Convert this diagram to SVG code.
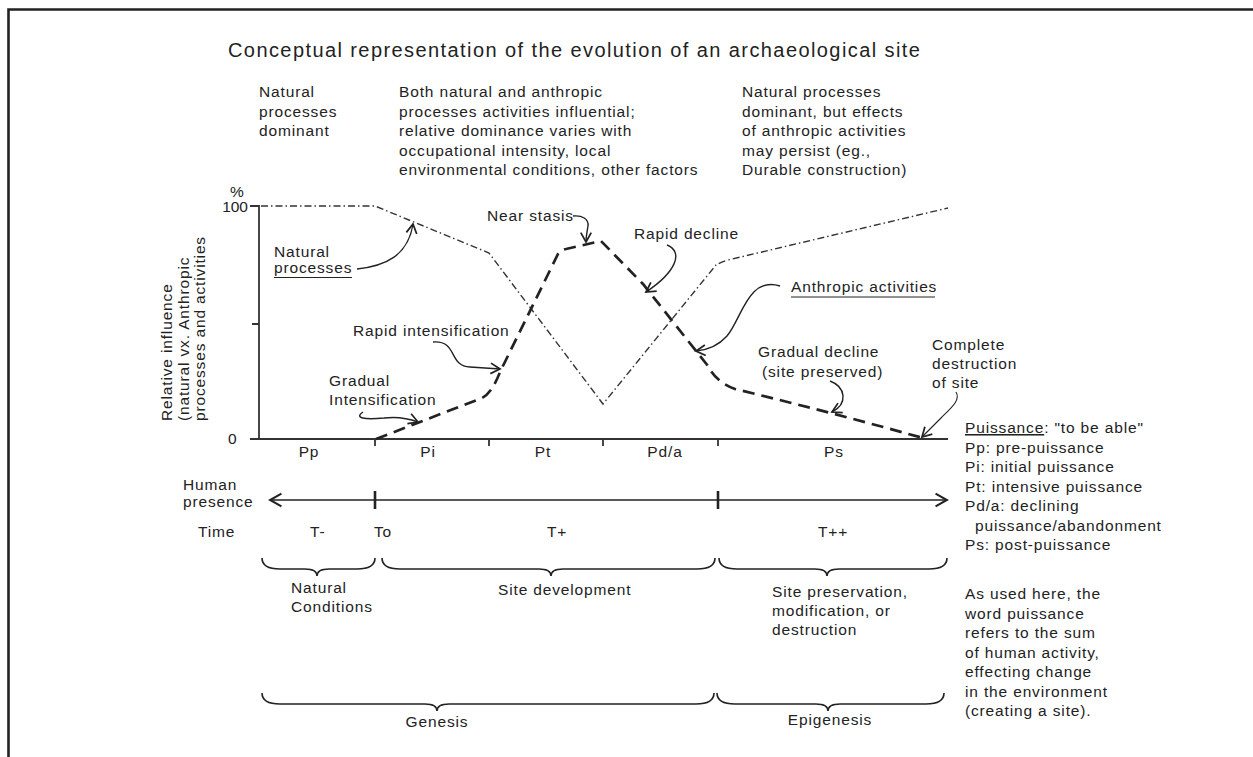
<svg xmlns="http://www.w3.org/2000/svg" width="1253" height="757" viewBox="0 0 1253 757">
<defs>
<style>
.t{font-family:"Liberation Sans",Arial,sans-serif;font-size:15.5px;fill:#222;letter-spacing:0.85px}
.title{font-size:20px;letter-spacing:0.1px}
.mid{text-anchor:middle}
.end{text-anchor:end}
.ln{fill:none;stroke:#222;stroke-width:1.6}
.ax{fill:none;stroke:#333;stroke-width:1.8}
.nat{fill:none;stroke:#333;stroke-width:1.4;stroke-dasharray:7 3 1.5 3}
.ant{fill:none;stroke:#222;stroke-width:2.7;stroke-dasharray:12 7}
.ann{fill:none;stroke:#222;stroke-width:1.4}
.br{fill:none;stroke:#222;stroke-width:1.6}
</style>
<marker id="ah" markerUnits="userSpaceOnUse" markerWidth="14" markerHeight="14" viewBox="-10 -6 12 12" refX="0" refY="0" orient="auto">
<path d="M-8,-4.5 L0,0 L-8,4.5" fill="none" stroke="#222" stroke-width="1.5"/>
</marker>
<marker id="big" markerUnits="userSpaceOnUse" markerWidth="16" markerHeight="16" viewBox="-12 -7 14 14" refX="0" refY="0" orient="auto-start-reverse">
<path d="M-10,-5.5 L0,0 L-10,5.5" fill="none" stroke="#222" stroke-width="1.8"/>
</marker>
</defs>
<rect x="0" y="0" width="1253" height="757" fill="#fff"/>
<g id="frame">
<path d="M8.5,757 L8.5,9.5 L1253,9.5" fill="none" stroke="#222" stroke-width="2.6"/>
</g>

<g id="title"><text class="t title" x="228" y="57" textLength="692" lengthAdjust="spacing">Conceptual representation of the evolution of an archaeological site</text></g>

<g id="phase-natural"><text class="t" x="259" y="97">Natural</text><text class="t" x="259" y="116.5">processes</text><text class="t" x="259" y="136">dominant</text></g>
<g id="phase-both"><text class="t" x="399" y="97">Both natural and anthropic</text><text class="t" x="399" y="116.5">processes activities influential;</text><text class="t" x="399" y="136">relative dominance varies with</text><text class="t" x="399" y="155.5">occupational intensity, local</text><text class="t" x="399" y="175">environmental conditions, other factors</text></g>
<g id="phase-post"><text class="t" x="742" y="97">Natural processes</text><text class="t" x="742" y="116.5">dominant, but effects</text><text class="t" x="742" y="136">of anthropic activities</text><text class="t" x="742" y="155.5">may persist (eg.,</text><text class="t" x="742" y="175">Durable construction)</text></g>

<g id="y-label">
<text class="t" transform="translate(172,421) rotate(-90)">Relative influence</text>
<text class="t" transform="translate(188.5,421) rotate(-90)">(natural vx. Anthropic</text>
<text class="t" transform="translate(204.5,421) rotate(-90)">processes and activities</text>
</g>
<g id="y-ticks">
<text class="t" x="230" y="197" style="letter-spacing:0">%</text>
<text class="t end" x="248" y="212" style="letter-spacing:0">100</text>
<text class="t" x="228" y="444" style="letter-spacing:0">0</text>
</g>

<g id="axes">
<path class="ax" d="M250,206 L259,206 L259,439 M252,324 L259,324 M250,439 L948,439 M375,439 L375,446 M489,439 L489,446 M603,439 L603,446 M718,439 L718,446"/>
</g>

<g id="periods">
<text class="t mid" x="309" y="457">Pp</text>
<text class="t mid" x="428" y="457">Pi</text>
<text class="t mid" x="543" y="457">Pt</text>
<text class="t mid" x="665" y="457">Pd/a</text>
<text class="t mid" x="834" y="457">Ps</text>
</g>

<g id="series">
<path id="natural-curve" class="nat" d="M261,206 L375,206 L489,253 L603,404 L716,265 Q721,262 728,260 L948,208"/>
<path id="anthropic-curve" class="ant" d="M376,439 L482,398 Q492,393 500,372 L558,254 Q561,250 566,249 L601,241 L643,284 L708,366 Q716,382 735,389 Q830,412 923,438"/>
</g>

<g id="lbl-natural-processes"><text class="t" x="274" y="257">Natural</text><text class="t" x="274" y="273">processes</text><line x1="274" y1="277.5" x2="352" y2="277.5" stroke="#222" stroke-width="1"/></g>
<g id="lbl-near-stasis"><text class="t" x="487" y="221">Near stasis</text></g>
<g id="lbl-rapid-decline"><text class="t" x="634" y="239">Rapid decline</text></g>
<g id="lbl-anthropic"><text class="t" x="791" y="292">Anthropic activities</text><line x1="791" y1="297" x2="935" y2="297" stroke="#222" stroke-width="1"/></g>
<g id="lbl-rapid-int"><text class="t" x="353" y="336">Rapid intensification</text></g>
<g id="lbl-gradual-int"><text class="t" x="329" y="386">Gradual</text><text class="t" x="329" y="405">Intensification</text></g>
<g id="lbl-gradual-decline"><text class="t" x="758" y="357">Gradual decline</text><text class="t" x="762" y="377">(site preserved)</text></g>
<g id="lbl-destruction"><text class="t" x="932" y="350">Complete</text><text class="t" x="932" y="369">destruction</text><text class="t" x="932" y="388">of site</text></g>

<g id="connectors">
<path class="ann" marker-end="url(#ah)" d="M357,269 C385,266 408,256 413,224"/>
<path class="ann" marker-end="url(#ah)" d="M573,216 C582,215 589,219 588,226 C587,232 586,236 586,242"/>
<path class="ann" marker-end="url(#ah)" d="M667,245 C684,252 676,272 646,292"/>
<path class="ann" marker-end="url(#ah)" d="M780,286 C748,276 742,318 727,336 C718,346 708,350 696,351"/>
<path class="ann" marker-end="url(#ah)" d="M433,342 C458,340 448,366 470,367 L500,369"/>
<path class="ann" marker-end="url(#ah)" d="M363,412 C354,418 364,420 384,418 C400,416 410,419 418,422"/>
<path class="ann" marker-end="url(#ah)" d="M830,381 C846,387 848,404 832,412"/>
<path class="ann" style="stroke-width:1.1" marker-end="url(#ah)" d="M956,392 C961,400 951,408 941,418 L922,437"/>
</g>

<g id="human-presence">
<text class="t" x="183" y="490">Human</text><text class="t" x="183" y="507">presence</text>
<path class="ln" marker-start="url(#big)" marker-end="url(#big)" d="M270,500 L947,500"/>
<path fill="none" stroke="#222" stroke-width="2.6" d="M375,491 L375,509 M718,491 L718,509"/>
</g>

<g id="time-row">
<text class="t" x="198" y="537">Time</text>
<text class="t" x="310" y="537">T-</text>
<text class="t" x="374" y="537">To</text>
<text class="t" x="547" y="537">T+</text>
<text class="t" x="818" y="537">T++</text>
</g>

<g id="braces">
<path class="br" d="M262,558 C262,566 268,569 280,569 L305,569 C313,569 317,571 317,576 C317,571 321,569 329,569 L357,569 C369,569 375,566 375,558"/>
<path class="br" d="M382,558 C382,566 388,569 400,569 L539,569 C547,569 551,571 551,576 C551,571 555,569 563,569 L697,569 C709,569 715,566 715,558"/>
<path class="br" d="M719,558 C719,566 725,569 737,569 L815,569 C823,569 827,571 827,576 C827,571 831,569 839,569 L929,569 C941,569 947,566 947,558"/>
<path class="br" d="M262,693 C262,701 268,704 280,704 L425,704 C433,704 437,706 437,711 C437,706 441,704 449,704 L696,704 C708,704 714,701 714,693"/>
<path class="br" d="M717,693 C717,701 723,704 735,704 L816,704 C824,704 828,706 828,711 C828,706 832,704 840,704 L926,704 C938,704 944,701 944,693"/>
</g>

<g id="stage-natural"><text class="t" x="291" y="593">Natural</text><text class="t" x="291" y="612">Conditions</text></g>
<g id="stage-development"><text class="t" x="498" y="595">Site development</text></g>
<g id="stage-preservation"><text class="t" x="772" y="597">Site preservation,</text><text class="t" x="772" y="616">modification, or</text><text class="t" x="772" y="635">destruction</text></g>
<g id="genesis"><text class="t mid" x="437" y="727">Genesis</text></g>
<g id="epigenesis"><text class="t mid" x="830" y="725">Epigenesis</text></g>

<g id="legend">
<text class="t" x="965" y="433"><tspan text-decoration="underline">Puissance</tspan>: "to be able"</text>
<text class="t" x="965" y="452.5">Pp: pre-puissance</text>
<text class="t" x="965" y="472">Pi: initial puissance</text>
<text class="t" x="965" y="491.5">Pt: intensive puissance</text>
<text class="t" x="965" y="511">Pd/a: declining</text>
<text class="t" x="975" y="530.5">puissance/abandonment</text>
<text class="t" x="965" y="550">Ps: post-puissance</text>
</g>
<g id="note">
<text class="t" x="965" y="599">As used here, the</text>
<text class="t" x="965" y="618.5">word puissance</text>
<text class="t" x="965" y="638">refers to the sum</text>
<text class="t" x="965" y="657.5">of human activity,</text>
<text class="t" x="965" y="677">effecting change</text>
<text class="t" x="965" y="696.5">in the environment</text>
<text class="t" x="965" y="716">(creating a site).</text>
</g>
</svg>
